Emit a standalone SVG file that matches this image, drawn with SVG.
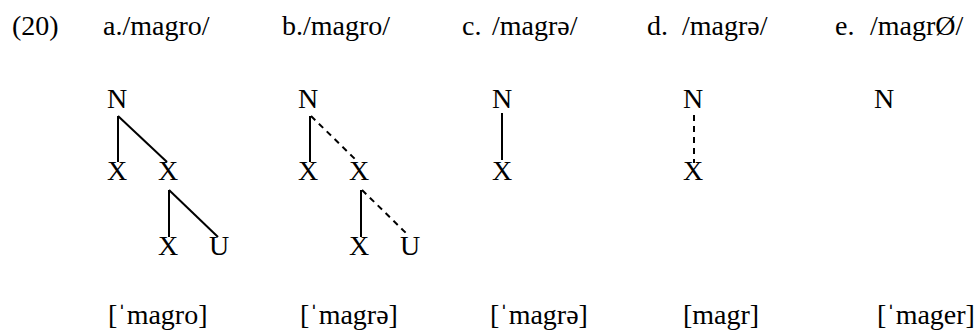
<svg xmlns="http://www.w3.org/2000/svg" width="978" height="333" viewBox="0 0 978 333" font-family="'Liberation Serif', 'DejaVu Serif', serif" font-size="28">
<style>
text{font-family:'Liberation Serif','DejaVu Serif',serif;font-size:28px;fill:#000}
.n{text-anchor:middle}
line{stroke:#000;stroke-width:2}
.d{stroke-dasharray:6 5}
</style>
<rect width="978" height="333" fill="#fff"/>
<g id="header">
<text x="12" y="35">(20)</text>
<text x="103" y="35">a./magro/</text>
<text x="282" y="35">b./magro/</text>
<text x="462" y="35">c.</text><text x="492" y="35">/magrə/</text>
<text x="647" y="35">d.</text><text x="682" y="35">/magrə/</text>
<text x="835" y="35">e.</text><text x="870" y="35">/magrØ/</text>
</g>
<g id="tree-a">
<text class="n" x="117" y="108">N</text>
<text class="n" x="117" y="180">X</text>
<text class="n" x="168" y="180">X</text>
<text class="n" x="168" y="255">X</text>
<text class="n" x="219" y="255">U</text>
</g>
<g id="tree-b">
<text class="n" x="308" y="108">N</text>
<text class="n" x="308" y="180">X</text>
<text class="n" x="359" y="180">X</text>
<text class="n" x="359" y="255">X</text>
<text class="n" x="410" y="255">U</text>
</g>
<g id="tree-c">
<text class="n" x="502" y="108">N</text>
<text class="n" x="502" y="180">X</text>
</g>
<g id="tree-d">
<text class="n" x="693" y="108">N</text>
<text class="n" x="693" y="180">X</text>
</g>
<g id="tree-e">
<text class="n" x="884" y="108">N</text>
</g>
<g id="connectors">
<line x1="118" y1="116" x2="118" y2="162"/>
<line x1="118" y1="116" x2="167" y2="162"/>
<line x1="169" y1="190" x2="169" y2="237"/>
<line x1="169" y1="190" x2="218" y2="237"/>
<line x1="310" y1="116" x2="310" y2="162"/>
<line class="d" x1="311" y1="116" x2="357" y2="161"/>
<line x1="361" y1="190" x2="361" y2="237"/>
<line class="d" x1="362" y1="190" x2="408" y2="235"/>
<line x1="502" y1="113" x2="502" y2="160"/>
<line class="d" x1="694" y1="115" x2="694" y2="163"/>
</g>
<g id="outputs">
<text x="108" y="324">[ˈmagro]</text>
<text x="300" y="324">[ˈmagrə]</text>
<text x="490" y="324">[ˈmagrə]</text>
<text x="683" y="324">[magr]</text>
<text x="877" y="324">[ˈmager]</text>
</g>
</svg>
